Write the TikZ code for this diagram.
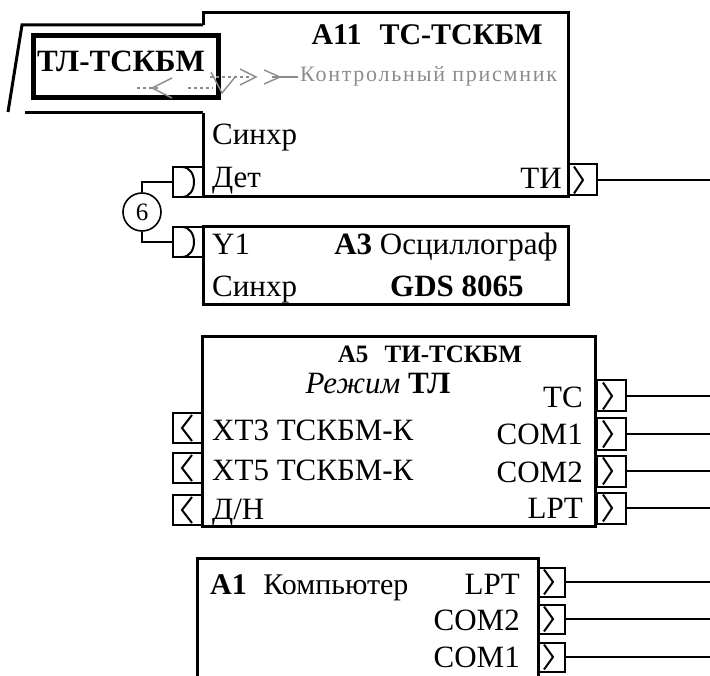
\documentclass[tikz,border=0pt]{standalone}
\usepackage{fontspec}
\setmainfont{Liberation Serif}
\newfontfamily\grayfont[LetterSpace=8]{Liberation Serif}
\usetikzlibrary{calc}
\begin{document}
\begin{tikzpicture}[x=1pt,y=-1pt,
  boxline/.style={line width=3},
  wire/.style={line width=1.6},
  faint/.style={draw=black!45, line width=1.4},
  lbl/.style={inner sep=0, font=\fontsize{31}{36}\selectfont},
  blbl/.style={inner sep=0, font=\fontsize{31}{36}\selectfont\bfseries},
  rport/.style={draw, line width=2, minimum width=29, minimum height=31, inner sep=0, outer sep=0,
    path picture={\draw[line width=2] ([xshift=6,yshift=-2]path picture bounding box.north west) -- ([xshift=15]path picture bounding box.west) -- ([xshift=6,yshift=2]path picture bounding box.south west);}},
  lport/.style={draw, line width=2, minimum width=29, minimum height=30, inner sep=0, outer sep=0,
    path picture={\draw[line width=2] ([xshift=-10,yshift=-2]path picture bounding box.north east) -- ([xshift=-20]path picture bounding box.east) -- ([xshift=-10,yshift=2]path picture bounding box.south east);}},
  dport/.style={draw, line width=2, minimum width=30, minimum height=30, inner sep=0, outer sep=0,
    path picture={\draw[line width=2] ([xshift=9]path picture bounding box.north west) .. controls ([xshift=25]path picture bounding box.north west) and ([xshift=25]path picture bounding box.south west) .. ([xshift=9]path picture bounding box.south west);}}
]
\useasboundingbox (0,0) rectangle (710,676);
\coordinate (R) at (710,0);

% ---- A11 box with break
\draw[boxline] (203,25) -- (203,13) -- (568,13) -- (568,197) -- (203,197) -- (203,113);
\draw[boxline] (203,25) -- (22,25) -- (8,112);
\draw[boxline] (25,113) -- (203,113);

% ---- TL-TSKBM box
\node[draw, line width=5, minimum width=185, minimum height=62, inner sep=0] (tl) at (125.5,67) {};
\node[blbl, anchor=base] (tltxt) at (121,72) {ТЛ-ТСКБМ};

% ---- faint double arrow
\draw[faint, dashed] (137,88) -- (160,88);
\draw[faint] (172,78) -- (152,88) -- (172,98);
\draw[faint, dashed] (188,88) -- (213,88);
\draw[faint, dashed] (210,77) -- (252,77);
\draw[faint] (240,69) -- (256,77) -- (240,85);
\draw[faint] (211,72) -- (222,93) -- (236,76);
\draw[faint] (264,70) -- (280,77) -- (264,84);
\draw[faint] (272,77) -- (298,77);
\node[anchor=base west, inner sep=0, text=black!45, font=\grayfont\fontsize{22}{24}\selectfont] (kp) at (300,82) {Контрольный присмник};

% ---- A11 texts
\node[blbl, anchor=base east, font=\fontsize{30}{36}\selectfont\bfseries] (a11t) at (543,45) {A11\hspace{0.35em} ТС-ТСКБМ};
\node[lbl, anchor=base west] (a11s) at (212,145) {Синхр};
\node[lbl, anchor=base west] (a11d) at (212,188) {Дет};
\node[lbl, anchor=base east] (a11ti) at (562,189) {ТИ};
\node[rport] (pti) at (582.5,180) {};
\draw[wire] (pti.east) -- (pti.east -| R);

% ---- D ports and circle 6
\node[dport] (d1) at (188,182) {};
\node[dport] (d2) at (188,242) {};
\node[draw, circle, line width=1.6, minimum size=38, inner sep=0, font=\fontsize{25}{25}\selectfont] (c6) at (142,212) {6};
\draw[wire] (c6.north) |- (d1.west);
\draw[wire] (c6.south) |- (d2.west);

% ---- A3 box
\node[draw, boxline, minimum width=365, minimum height=78, inner sep=0] (a3) at (385.5,266) {};
\node[lbl, anchor=base west] (a3y) at (212,255) {Y1};
\node[lbl, anchor=base east] (a3t) at (558,255) {\textbf{A3} Осциллограф};
\node[lbl, anchor=base west] (a3s) at (212,297) {Синхр};
\node[blbl, anchor=base west] (a3g) at (390,297) {GDS 8065};

% ---- A5 box
\node[draw, boxline, minimum width=393, minimum height=189, inner sep=0] (a5) at (398.5,431.5) {};
\node[inner sep=0, anchor=base, font=\fontsize{25}{28}\selectfont\bfseries] (a5t) at (430,363) {A5\hspace{0.4em} ТИ-ТСКБМ};
\node[lbl, anchor=base] (a5m) at (378,394) {\textit{Режим} \textbf{ТЛ}};
\node[lbl, anchor=base west] (a5x3) at (212,441) {XT3 ТСКБМ-К};
\node[lbl, anchor=base west] (a5x5) at (212,480) {XT5 ТСКБМ-К};
\node[lbl, anchor=base west] (a5dn) at (212,519) {Д/Н};
\node[lbl, anchor=base east] (a5tc) at (583,408) {ТС};
\node[lbl, anchor=base east] (a5c1) at (583,445) {COM1};
\node[lbl, anchor=base east] (a5c2) at (583,482) {COM2};
\node[lbl, anchor=base east] (a5lp) at (583,518) {LPT};
\node[rport] (q1) at (611.5,396) {};
\node[rport] (q2) at (611.5,434) {};
\node[rport] (q3) at (611.5,471) {};
\node[rport] (q4) at (611.5,508) {};
\foreach \p in {q1,q2,q3,q4} \draw[wire] (\p.east) -- (\p.east -| R);
\node[lport] (l1) at (187.5,428) {};
\node[lport] (l2) at (187.5,468) {};
\node[lport] (l3) at (187.5,510) {};

% ---- A1 box (open at bottom)
\draw[boxline] (197,680) -- (197,558) -- (538,558) -- (538,680);
\node[lbl, anchor=base west, font=\fontsize{30}{36}\selectfont] (a1t) at (210,594) {\textbf{A1}\hspace{0.3em} Компьютер};
\node[lbl, anchor=base east] (a1lp) at (520,594) {LPT};
\node[lbl, anchor=base east] (a1c2) at (520,630) {COM2};
\node[lbl, anchor=base east] (a1c1) at (520,667) {COM1};
\node[rport, minimum width=27, minimum height=29] (s1) at (551.5,582) {};
\node[rport, minimum width=27, minimum height=29] (s2) at (551.5,619) {};
\node[rport, minimum width=27, minimum height=29] (s3) at (551.5,657) {};
\foreach \p in {s1,s2,s3} \draw[wire] (\p.east) -- (\p.east -| R);
\end{tikzpicture}
\end{document}
